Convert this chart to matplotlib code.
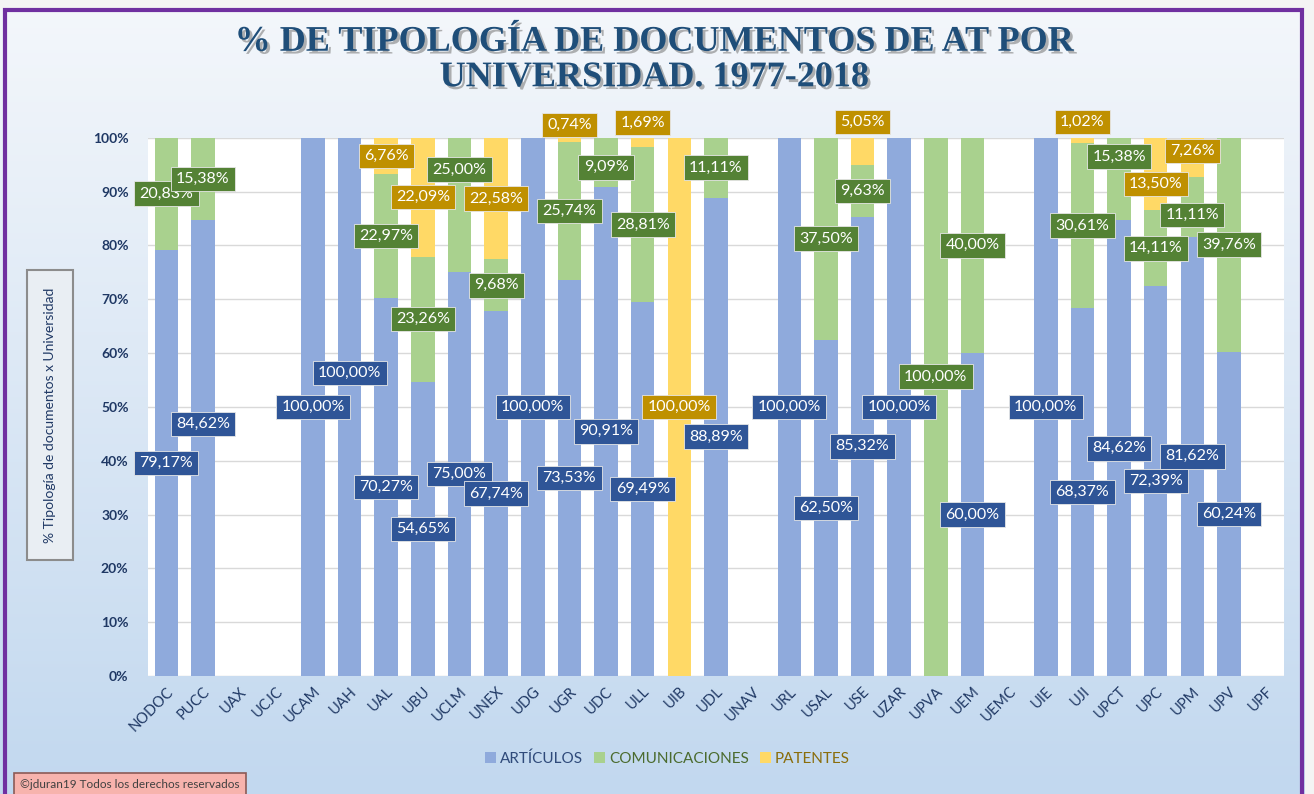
"""Stacked 100% columns: document typology per university (1977-2018)."""

import matplotlib.pyplot as plt
import matplotlib.patheffects as pe
import numpy as np
from matplotlib.patches import Rectangle

universidades = [
    "NODOC", "PUCC", "UAX", "UCJC", "UCAM", "UAH", "UAL", "UBU", "UCLM", "UNEX",
    "UDG", "UGR", "UDC", "ULL", "UIB", "UDL", "UNAV", "URL", "USAL", "USE",
    "UZAR", "UPVA", "UEM", "UEMC", "UIE", "UJI", "UPCT", "UPC", "UPM", "UPV", "UPF",
]
articulos = [
    79.17, 84.62, 0, 0, 100.00, 100.00, 70.27, 54.65, 75.00, 67.74,
    100.00, 73.53, 90.91, 69.49, 0, 88.89, 0, 100.00, 62.50, 85.32,
    100.00, 0, 60.00, 0, 100.00, 68.37, 84.62, 72.39, 81.62, 60.24, 0,
]
comunicaciones = [
    20.83, 15.38, 0, 0, 0, 0, 22.97, 23.26, 25.00, 9.68,
    0, 25.74, 9.09, 28.81, 0, 11.11, 0, 0, 37.50, 9.63,
    0, 100.00, 40.00, 0, 0, 30.61, 15.38, 14.11, 11.11, 39.76, 0,
]
patentes = [
    0, 0, 0, 0, 0, 0, 6.76, 22.09, 0, 22.58,
    0, 0.74, 0, 1.69, 100.00, 0, 0, 0, 0, 5.05,
    0, 0, 0, 0, 0, 1.02, 0, 13.50, 7.26, 0, 0,
]

# label positions moved by hand in the original chart (series, university) -> y in %
label_y_override = {
    ("art", "PUCC"): 46.8, ("art", "UAH"): 56.3,
    ("com", "UCLM"): 94.1, ("com", "UDC"): 94.5, ("com", "UPVA"): 55.6,
    ("com", "UPCT"): 96.5, ("com", "UPM"): 85.6,
    ("pat", "UGR"): 102.4, ("pat", "ULL"): 102.8, ("pat", "USE"): 102.9,
    ("pat", "UJI"): 102.9, ("pat", "UPC"): 91.4, ("pat", "UPM"): 97.5,
}

BAR_COLORS = {"art": "#8faadc", "com": "#a9d18e", "pat": "#ffd966"}
BOX_COLORS = {"art": "#2f5597", "com": "#548235", "pat": "#bf9000"}
NAVY = "#1f3864"
FONT = ["Lato", "DejaVu Sans"]

W, H = 1314, 794
fig = plt.figure(figsize=(W / 100, H / 100), dpi=100)

# background gradient
bg = fig.add_axes([0, 0, 1, 1], zorder=-10)
grad = np.linspace(0, 1, 256).reshape(-1, 1)
top = np.array([0xf4, 0xf7, 0xfb]) / 255
bot = np.array([0xc2, 0xd8, 0xef]) / 255
img = top + (bot - top) * grad[:, :, None]
bg.imshow(img, aspect="auto", extent=[0, 1, 0, 1])
bg.set_xlim(0, 1)
bg.set_ylim(0, 1)
bg.axis("off")
bg.add_patch(Rectangle((0, 1 - 9 / H), 1, 9 / H, facecolor="#f4f4f4", edgecolor="none"))
bg.add_patch(Rectangle((1305 / W, 0), 1 - 1305 / W, 1, facecolor="#f4f4f4", edgecolor="none"))
bg.add_patch(Rectangle((5 / W, -0.02), (1302 - 5) / W, 1.02 - 10 / H,
                       facecolor="none", edgecolor="#7030a0", linewidth=3))

ax = fig.add_axes([148 / W, (H - 676) / H, (1284 - 148) / W, (676 - 137.7) / H])
ax.set_facecolor("white")

x = np.arange(len(universidades))
art = np.array(articulos)
com = np.array(comunicaciones)
pat = np.array(patentes)
width = 0.64

ax.bar(x, art, width, color=BAR_COLORS["art"], label="ARTÍCULOS", zorder=2)
ax.bar(x, com, width, bottom=art, color=BAR_COLORS["com"], label="COMUNICACIONES", zorder=2)
ax.bar(x, pat, width, bottom=art + com, color=BAR_COLORS["pat"], label="PATENTES", zorder=2)

for key, vals, base in (("art", art, np.zeros_like(art)), ("com", com, art), ("pat", pat, art + com)):
    for i, v in enumerate(vals):
        if v <= 0:
            continue
        y = label_y_override.get((key, universidades[i]), base[i] + v / 2)
        txt = f"{v:.2f}".replace(".", ",") + "%"
        ax.text(i, y, txt, ha="center", va="center", color="white", fontsize=11.5,
                family=FONT, zorder=5, clip_on=False,
                bbox=dict(boxstyle="square,pad=0.33", facecolor=BOX_COLORS[key],
                          edgecolor="#e6e6e6", linewidth=0.6))

ax.set_xlim(-0.5, len(universidades) - 0.5)
ax.set_ylim(0, 100)
ax.set_yticks(range(0, 101, 10))
ax.set_yticklabels([f"{t}%" for t in range(0, 101, 10)], family=FONT,
                   fontsize=10, fontweight="bold", color=NAVY)
ax.set_xticks(x)
ax.set_xticklabels(universidades, rotation=45, ha="right", rotation_mode="anchor",
                   family=FONT, fontsize=10.5, color=NAVY)
ax.tick_params(axis="x", length=0, pad=6)
ax.tick_params(axis="y", length=0, pad=14)
ax.grid(axis="y", color="#d9d9d9", linewidth=1, zorder=0)
for s in ax.spines.values():
    s.set_visible(False)

leg = fig.legend(loc="center", bbox_to_anchor=(0.508, 0.045), ncol=3, frameon=False,
                 handlelength=0.7, handleheight=0.7, handletextpad=0.3, columnspacing=0.7,
                 prop={"family": FONT, "size": 11})
for t, c in zip(leg.get_texts(), ["#2f4a7a", "#4b6b2e", "#8a6d0b"]):
    t.set_color(c)

fig.text(0.498, 1 - 60 / H, "% DE TIPOLOGÍA DE DOCUMENTOS DE AT POR\nUNIVERSIDAD. 1977-2018",
         ha="center", va="center", family=["Liberation Serif", "DejaVu Serif"],
         fontsize=26, fontweight="bold", color="#1f4e79", linespacing=1.1,
         path_effects=[pe.withSimplePatchShadow(offset=(2, -2), shadow_rgbFace="#7f7f7f", alpha=0.6)])

fig.text(50 / W, 1 - 415 / H, "% Tipología de documentos x Universidad", rotation=90,
         ha="center", va="center", family=FONT, fontsize=10, color=NAVY,
         bbox=dict(boxstyle="square,pad=1.25", facecolor="#e9eef3", edgecolor="#8c8c8c",
                   linewidth=1.5))

fig.text(130 / W, 1 - 784 / H, "©jduran19 Todos los derechos reservados", ha="center",
         va="center", family=FONT, fontsize=8.5, color="#404040",
         bbox=dict(boxstyle="square,pad=0.5", facecolor="#f7b3ad", edgecolor="#8c5a56",
                   linewidth=1.2))

fig.savefig("out.png", dpi=100)
